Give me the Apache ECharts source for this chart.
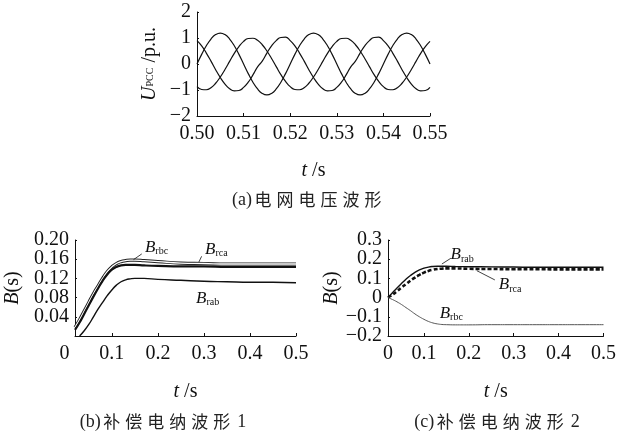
<!DOCTYPE html>
<html>
<head>
<meta charset="utf-8">
<script src="https://cdn.jsdelivr.net/npm/echarts@6/dist/echarts.min.js"></script>
<style>
html, body { margin: 0; padding: 0; background: #fff; }
#chart { width: 619px; height: 435px; }
</style>
</head>
<body>
<div id="chart"></div>
<script>
// (a) 电网电压, 1 ms steps
const tVolt = [0.500,0.501,0.502,0.503,0.504,0.505,0.506,0.507,0.508,0.509,
  0.510,0.511,0.512,0.513,0.514,0.515,0.516,0.517,0.518,0.519,
  0.520,0.521,0.522,0.523,0.524,0.525,0.526,0.527,0.528,0.529,
  0.530,0.531,0.532,0.533,0.534,0.535,0.536,0.537,0.538,0.539,
  0.540,0.541,0.542,0.543,0.544,0.545,0.546,0.547,0.548,0.549,0.550]
const uA = [0,0.37,0.70,0.96,1.13,1.19,1.13,0.96,0.70,0.37,0,-0.37,-0.70,-0.96,-1.13,-1.19,-1.13,-0.96,-0.70,-0.37,
  0,0.37,0.70,0.96,1.13,1.19,1.13,0.96,0.70,0.37,0,-0.37,-0.70,-0.96,-1.13,-1.19,-1.13,-0.96,-0.70,-0.37,
  0,0.37,0.70,0.96,1.13,1.19,1.13,0.96,0.70,0.37,0]
const uB = [-0.87,-0.98,-0.99,-0.91,-0.74,-0.50,-0.21,0.10,0.41,0.67,0.87,0.98,0.99,0.91,0.74,0.50,0.21,-0.10,-0.41,-0.67,
  -0.87,-0.98,-0.99,-0.91,-0.74,-0.50,-0.21,0.10,0.41,0.67,0.87,0.98,0.99,0.91,0.74,0.50,0.21,-0.10,-0.41,-0.67,
  -0.87,-0.98,-0.99,-0.91,-0.74,-0.50,-0.21,0.10,0.41,0.67,0.87]
const uC = [0.90,0.70,0.42,0.11,-0.22,-0.52,-0.77,-0.95,-1.03,-1.02,-0.90,-0.70,-0.42,-0.11,0.11,0.42,0.70,0.90,1.02,1.03,
  0.90,0.70,0.42,0.11,-0.22,-0.52,-0.77,-0.95,-1.03,-1.02,-0.90,-0.70,-0.42,-0.11,0.11,0.42,0.70,0.90,1.02,1.03,
  0.90,0.70,0.42,0.11,-0.22,-0.52,-0.77,-0.95,-1.03,-1.02,-0.90]
const voltXTicks = [0.50, 0.51, 0.52, 0.53, 0.54, 0.55]
const voltYTicks = [-2, -1, 0, 1, 2]

// (b)(c) 补偿电纳
const tB = [0.02,0.03,0.04,0.05,0.06,0.07,0.08,0.09,0.10,0.11,0.12,0.13,0.14,0.15,0.17,0.20,0.25,0.30,0.35,0.40,0.45,0.50]
const b1Rbc = [0.018,0.034,0.052,0.070,0.088,0.104,0.120,0.134,0.144,0.151,0.155,0.157,0.158,0.158,0.157,0.155,0.152,0.151,0.150,0.150,0.150,0.150]
const b1Rca = [0.013,0.028,0.046,0.064,0.082,0.099,0.115,0.128,0.138,0.144,0.147,0.148,0.148,0.148,0.147,0.146,0.145,0.145,0.144,0.144,0.144,0.144]
const b1Rab = [null,0.000,0.011,0.024,0.040,0.056,0.070,0.084,0.096,0.106,0.113,0.117,0.119,0.120,0.120,0.118,0.116,0.114,0.113,0.112,0.112,0.111]
const c2Rab = [0.000,0.025,0.050,0.074,0.096,0.115,0.131,0.144,0.153,0.159,0.162,0.163,0.163,0.163,0.162,0.161,0.160,0.159,0.158,0.158,0.158,0.158]
const c2Rca = [0.000,0.015,0.033,0.052,0.070,0.088,0.104,0.118,0.130,0.139,0.145,0.149,0.151,0.152,0.152,0.150,0.149,0.148,0.148,0.147,0.147,0.147]
const c2Rbc = [0.000,-0.010,-0.022,-0.036,-0.052,-0.068,-0.085,-0.100,-0.113,-0.124,-0.132,-0.137,-0.140,-0.141,-0.142,-0.142,-0.141,-0.141,-0.141,-0.141,-0.141,-0.141]
const bXLabels = [0.02, 0.1, 0.2, 0.3, 0.4, 0.5]
const bXTicks = [0.1, 0.2, 0.3, 0.4, 0.5]
const b1YTicks = [0.04, 0.08, 0.12, 0.16, 0.20]
const c2YTicks = [-0.2, -0.1, 0, 0.1, 0.2, 0.3]

const serif = '"Liberation Serif", "Times New Roman", serif'
const cjk = '"Noto Sans CJK SC", sans-serif'
const ink = '#111'

const pairs = (t, v) => t.map((x, i) => [x, v[i]])
const minus = (v) => (v < 0 ? '\u2212' + String(-v) : String(v))
const fmtB = v => v.toFixed(2)
const fmtC = v => minus(Math.round(v * 10) / 10)
const every = (list, k) => list.filter((_, i) => i % 2 === k)

const labelStyle = { fontFamily: serif, fontSize: 20, color: ink }
const subRich = {
  b: { fontFamily: serif, fontStyle: 'italic', fontSize: 17, color: ink },
  s: { fontFamily: serif, fontSize: 10, color: ink, padding: [8, 0, 0, 0] }
}

function xAxisOf(grid, min, max, labels, ticks, fmt, nameGap, rich) {
  return {
    gridIndex: grid, type: 'value', min: min, max: max,
    axisLine: { show: true, onZero: false, lineStyle: { color: ink, width: 1 } },
    axisTick: { show: true, inside: true, length: 3, customValues: ticks, lineStyle: { color: ink } },
    axisLabel: Object.assign({
      customValues: labels, formatter: fmt, margin: 8, rich: rich || {},
      showMinLabel: true, showMaxLabel: true
    }, labelStyle),
    splitLine: { show: false },
    name: '{i|t} /s', nameLocation: 'middle', nameGap: nameGap,
    nameTextStyle: Object.assign({ rich: { i: { fontFamily: serif, fontStyle: 'italic', fontSize: 20, color: ink } } }, labelStyle)
  }
}

function yAxisOf(grid, min, max, labels, ticks, fmt, name, rich, nameGap) {
  return {
    gridIndex: grid, type: 'value', position: 'left', min: min, max: max,
    axisLine: { show: true, onZero: false, lineStyle: { color: ink, width: 1 } },
    axisTick: { show: true, inside: true, length: 2, customValues: ticks, lineStyle: { color: ink } },
    axisLabel: Object.assign({
      customValues: labels, formatter: fmt, margin: 6, showMinLabel: true, showMaxLabel: true
    }, labelStyle),
    splitLine: { show: false },
    name: name, nameLocation: 'middle', nameRotate: 90, nameGap: nameGap,
    nameTextStyle: Object.assign({ rich: rich }, labelStyle)
  }
}

// 第二条同位置的 y 轴, 只画另一半刻度标签 (刻度太密会被自动隐藏)
function yLabelsOnly(grid, min, max, labels, fmt) {
  return {
    gridIndex: grid, type: 'value', position: 'left', offset: 0, min: min, max: max,
    axisLine: { show: false, onZero: false },
    axisTick: { show: false },
    axisLabel: Object.assign({
      customValues: labels, formatter: fmt, margin: 6, showMinLabel: true, showMaxLabel: true
    }, labelStyle),
    splitLine: { show: false }
  }
}

function line(x, y, data, style, extra) {
  return Object.assign({
    type: 'line', xAxisIndex: x, yAxisIndex: y, data: data, smooth: true,
    showSymbol: false, symbol: 'none', silent: true, lineStyle: style
  }, extra || {})
}

function tag(coord, sub) {
  return {
    coord: coord, symbol: 'circle', symbolSize: 1, itemStyle: { color: 'rgba(0,0,0,0)' },
    label: { show: true, position: 'inside', formatter: '{b|B}{s|' + sub + '}', rich: subRich, color: ink }
  }
}
function leader(list) {
  return {
    symbol: ['none', 'none'], silent: true, label: { show: false },
    lineStyle: { color: ink, width: 0.8, type: 'solid' },
    data: list.map(p => [{ coord: p[0] }, { coord: p[1] }])
  }
}

function caption(x, y, tagText, words, tail) {
  let s = '{p|' + tagText + '}'
  for (const ch of words) s += '{c|' + ch + '}'
  if (tail) s += '{p| ' + tail + '}'
  return {
    type: 'text', x: x, y: y,
    style: {
      text: s, align: 'center', verticalAlign: 'middle', fill: '#222',
      rich: {
        p: { fontFamily: serif, fontSize: 18, fill: '#222' },
        c: { fontFamily: cjk, fontSize: 17, fill: '#222', padding: [0, 2.5, 0, 2.5] }
      }
    }
  }
}

const chart = echarts.init(document.getElementById('chart'))

const option = {
  animation: false,
  backgroundColor: '#fff',
  grid: [
    { left: 197, top: 12, width: 233, height: 104 },
    { left: 75, top: 240, width: 221, height: 96 },
    { left: 388, top: 240, width: 219, height: 96 }
  ],
  xAxis: [
    xAxisOf(0, 0.5, 0.55, voltXTicks, voltXTicks.slice(1), v => v.toFixed(2), 45),
    // 0 标签画在轴线左侧
    xAxisOf(1, 0.02, 0.5, bXLabels, bXTicks, v => (v < 0.05 ? '{z|0}' : String(v)), 46,
      { z: { fontFamily: serif, fontSize: 20, color: ink, padding: [0, 21, 0, 0] } }),
    xAxisOf(2, 0.02, 0.5, bXLabels, bXTicks, v => (v < 0.05 ? '0' : String(v)), 46)
  ],
  yAxis: [
    yAxisOf(0, -2, 2, voltYTicks, voltYTicks, minus, '{u|U}{s|PCC} /p.u.', {
      u: { fontFamily: serif, fontStyle: 'italic', fontSize: 20, color: ink },
      s: { fontFamily: serif, fontSize: 10, color: ink }
    }, 37),
    yAxisOf(1, 0, 0.2, every(b1YTicks, 0), b1YTicks, fmtB, '{i|B}(s)', {
      i: { fontFamily: serif, fontStyle: 'italic', fontSize: 20, color: ink }
    }, 52),
    yAxisOf(2, -0.2, 0.3, every(c2YTicks, 0), c2YTicks, fmtC, '{i|B}(s)', {
      i: { fontFamily: serif, fontStyle: 'italic', fontSize: 20, color: ink }
    }, 38),
    yLabelsOnly(1, 0, 0.2, every(b1YTicks, 1), fmtB),
    yLabelsOnly(2, -0.2, 0.3, every(c2YTicks, 1), fmtC)
  ],
  series: [
    line(0, 0, pairs(tVolt, uA), { color: ink, width: 1.2 }),
    line(0, 0, pairs(tVolt, uB), { color: ink, width: 1.2 }),
    line(0, 0, pairs(tVolt, uC), { color: ink, width: 1.2 }),

    // (b)
    line(1, 1, pairs(tB, b1Rbc), { color: '#222', width: 3.2 }, {
      markPoint: { data: [tag([0.197, 0.184], 'rbc')] },
      markLine: leader([[[0.147, 0.159], [0.165, 0.171]]])
    }),
    line(1, 1, pairs(tB, b1Rbc), { color: '#fff', width: 1.3 }),
    line(1, 1, pairs(tB, b1Rca), { color: ink, width: 2.2 }, {
      markPoint: { data: [tag([0.327, 0.180], 'rca')] },
      markLine: leader([[[0.295, 0.166], [0.289, 0.154]]])
    }),
    line(1, 1, pairs(tB, b1Rab), { color: ink, width: 1.4 }, {
      markPoint: { data: [tag([0.308, 0.079], 'rab')] }
    }),

    // (c)
    line(2, 2, pairs(tB, c2Rab), { color: ink, width: 1.4 }, {
      markPoint: { data: [tag([0.185, 0.222], 'rab')] },
      markLine: leader([[[0.140, 0.175], [0.160, 0.205]]])
    }),
    line(2, 2, pairs(tB, c2Rca), { color: ink, width: 2.6, type: [4, 2] }, {
      markPoint: { data: [tag([0.292, 0.066], 'rca')] },
      markLine: leader([[[0.218, 0.140], [0.258, 0.092]]])
    }),
    line(2, 2, pairs(tB, c2Rbc), { color: '#555', width: 1 }, {
      markPoint: { data: [tag([0.161, -0.082], 'rbc')] }
    })
  ],
  graphic: [
    caption(308, 200, '(a)', '电网电压波形'),
    caption(163, 422, '(b)', '补偿电纳波形', '1'),
    caption(497, 422, '(c)', '补偿电纳波形', '2')
  ]
}

chart.setOption(option)
</script>
</body>
</html>
